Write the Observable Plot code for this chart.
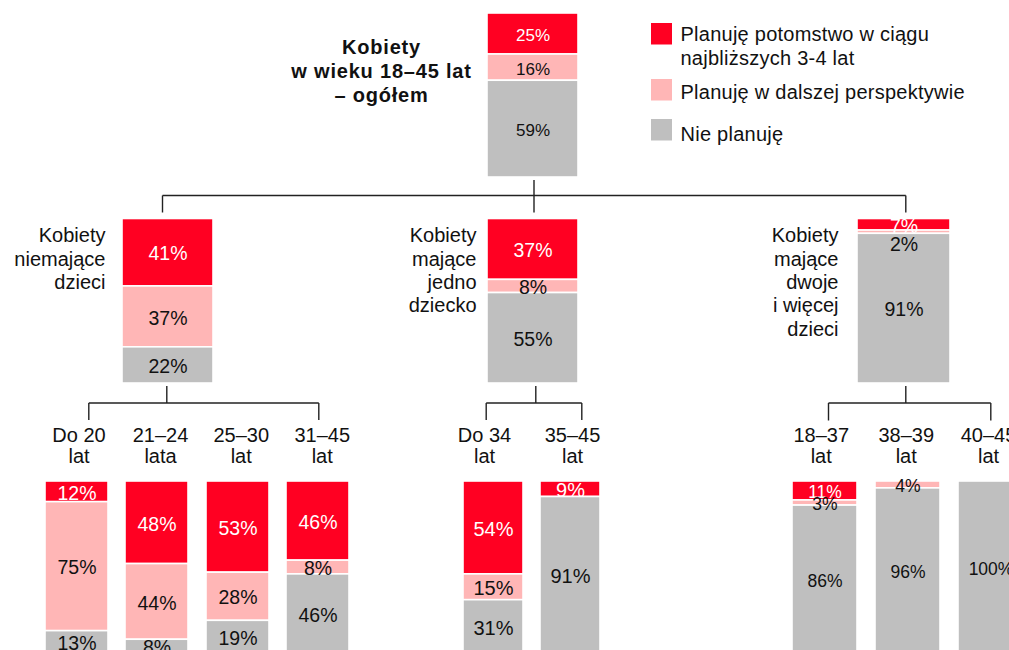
<!DOCTYPE html>
<html>
<head>
<meta charset="utf-8">
<script src="https://cdn.jsdelivr.net/npm/d3@7"></script>
<script src="https://cdn.jsdelivr.net/npm/@observablehq/plot@0.6"></script>
<style>
  html, body { margin: 0; padding: 0; overflow: hidden; background: #fff; }
</style>
</head>
<body>
<div id="chart"></div>
<script>
// ---------------- DATA ----------------
const nodeIds = ["total", "noKids", "oneKid", "twoPlus",
  "nk1", "nk2", "nk3", "nk4", "ok1", "ok2", "tp1", "tp2", "tp3"];
const nodeParents = [null, "total", "total", "total",
  "noKids", "noKids", "noKids", "noKids", "oneKid", "oneKid", "twoPlus", "twoPlus", "twoPlus"];
const nodeLabels = [
  "Kobiety\nw wieku 18–45 lat\n– ogółem",
  "Kobiety\nniemające\ndzieci",
  "Kobiety\nmające\njedno\ndziecko",
  "Kobiety\nmające\ndwoje\ni więcej\ndzieci",
  "Do 20\nlat", "21–24\nlata", "25–30\nlat", "31–45\nlat",
  "Do 34\nlat", "35–45\nlat",
  "18–37\nlat", "38–39\nlat", "40–45\nlat"
];
const seriesNames = [
  "Planuję potomstwo w ciągu najbliższych 3-4 lat",
  "Planuję w dalszej perspektywie",
  "Nie planuję"
];
const legendLabels = [
  "Planuję potomstwo w ciągu\nnajbliższych 3-4 lat",
  "Planuję w dalszej perspektywie",
  "Nie planuję"
];
const planSoon    = [25, 41, 37,  7, 12, 48, 53, 46, 54,  9, 11,  0,   0];
const planLater   = [16, 37,  8,  2, 75, 44, 28,  8, 15,  0,  3,  4,   0];
const notPlanning = [59, 22, 55, 91, 13,  8, 19, 46, 31, 91, 86, 96, 100];

// ---------------- STYLE / LAYOUT ----------------
const W = 1009, H = 650;
const seriesColors = ["#FF0022", "#FFB6B6", "#BFBFBF"];
const seriesTextColors = ["#ffffff", "#111111", "#111111"];
const FONT = "'Liberation Sans', Arial, Helvetica, sans-serif";

const levels = [
  {top: 13,    height: 164},
  {top: 218.5, height: 164.5},
  {top: 481,   height: 172}
];
const barLayout = {
  total:   {x1: 487, x2: 578, fs: 17},
  noKids:  {x1: 122, x2: 213, fs: 19.5, labelX: 105},
  oneKid:  {x1: 487, x2: 578, fs: 19.5, labelX: 476},
  twoPlus: {x1: 857, x2: 950, fs: 19.5, labelX: 838},
  nk1: {x1: 45,  x2: 108, fs: 19.5, labelX: 78.5},
  nk2: {x1: 125, x2: 188, fs: 19.5, labelX: 160},
  nk3: {x1: 206, x2: 269, fs: 19.5, labelX: 240.7},
  nk4: {x1: 286, x2: 349, fs: 19.5, labelX: 321.7},
  ok1: {x1: 463, x2: 523, fs: 20,   labelX: 484},
  ok2: {x1: 540, x2: 600, fs: 20,   labelX: 572},
  tp1: {x1: 792, x2: 857, fs: 17.5, labelX: 820.7},
  tp2: {x1: 875, x2: 940, fs: 17.5, labelX: 905.7},
  tp3: {x1: 958, x2: 1023, fs: 17.5, labelX: 988}
};
const labelLayout = [
  {x: 381, y: 36,    anchor: "middle", lineHeight: 1.2,  weight: "bold", spacing: 0.8},
  {y: 225,           anchor: "end",    lineHeight: 1.17, weight: "normal", spacing: 0},
  {y: 425.8,         anchor: "middle", lineHeight: 1.07, weight: "normal", spacing: 0}
];
const bracketLayout = {
  total:   {stemX: 533.5, y: 195,   drops: [162, 533.5, 905.3], dropEnd: 212},
  noKids:  {stemX: 166.3, y: 402.5, drops: [88.3, 318.3],       dropEnd: 419.5},
  oneKid:  {stemX: 535.3, y: 402.5, drops: [485.7, 581.3],      dropEnd: 419.5},
  twoPlus: {stemX: 905.3, y: 402.5, drops: [828, 990.3],        dropEnd: 420}
};
const legendLayout = {x1: 651, x2: 672, textX: 680,
  rowTop: [23, 79, 119], rowH: 21.5, textY: [24, 82, 124], lineHeight: 1.17, spacing: 0.25};

// ---------------- BUILD TABLES ----------------
const levelOf = id => {
  let lvl = 0, p = nodeParents[nodeIds.indexOf(id)];
  while (p) { lvl++; p = nodeParents[nodeIds.indexOf(p)]; }
  return lvl;
};
const valuesBySeries = [planSoon, planLater, notPlanning];

const segments = [];
nodeIds.forEach((id, i) => {
  const L = levels[levelOf(id)];
  const b = barLayout[id];
  let cum = 0;
  valuesBySeries.forEach((vals, s) => {
    const v = vals[i];
    if (v > 0) {
      const y1 = L.top + cum / 100 * L.height;
      const y2 = L.top + (cum + v) / 100 * L.height;
      const h = y2 - y1;
      segments.push({
        node: id, series: seriesNames[s], s, value: v,
        x1: b.x1, x2: b.x2, y1, y2,
        cx: (b.x1 + b.x2) / 2,
        cy: (y1 + y2) / 2 + (h < 4 ? 12.5 : 1.5),
        fs: b.fs, label: v + "%"
      });
    }
    cum += v;
  });
});

const nodeLabelRows = nodeIds.map((id, i) => ({
  id, level: levelOf(id), text: nodeLabels[i],
  x: labelLayout[levelOf(id)].x ?? barLayout[id].labelX,
  y: labelLayout[levelOf(id)].y
}));

const links = [];
Object.entries(bracketLayout).forEach(([pid, br]) => {
  const L = levels[levelOf(pid)];
  const bottom = L.top + L.height;
  links.push({x1: br.stemX, y1: bottom + 2.5, x2: br.stemX, y2: br.y});
  links.push({x1: d3.min(br.drops), y1: br.y, x2: d3.max(br.drops), y2: br.y});
  br.drops.forEach(x => links.push({x1: x, y1: br.y, x2: x, y2: br.dropEnd}));
});

const legendRows = seriesNames.map((name, i) => ({
  name, label: legendLabels[i],
  y1: legendLayout.rowTop[i], y2: legendLayout.rowTop[i] + legendLayout.rowH,
  ty: legendLayout.textY[i]
}));

// ---------------- PLOT ----------------
// letter-spacing applied through the mark's render hook
const withSpacing = (px) => (index, scales, values, dims, context, next) => {
  const g = next(index, scales, values, dims, context);
  if (px) d3.select(g).selectAll("text").attr("letter-spacing", px + "px");
  return g;
};

const textMark = (lvl) => Plot.text(nodeLabelRows.filter(d => d.level === lvl), {
  x: "x", y: "y", text: "text",
  textAnchor: labelLayout[lvl].anchor,
  lineAnchor: "top",
  lineHeight: labelLayout[lvl].lineHeight,
  fontSize: 20,
  fontWeight: labelLayout[lvl].weight,
  fill: "#111111",
  render: withSpacing(labelLayout[lvl].spacing)
});

const chart = Plot.plot({
  width: W, height: H,
  margin: 0,
  x: {type: "linear", domain: [0, W], range: [0, W], axis: null},
  y: {type: "linear", domain: [0, H], range: [0, H], axis: null},
  color: {domain: seriesNames, range: seriesColors},
  style: {fontFamily: FONT, background: "#ffffff", overflow: "hidden"},
  marks: [
    Plot.link(links, {x1: "x1", y1: "y1", x2: "x2", y2: "y2",
      stroke: "#222222", strokeWidth: 1.4}),
    Plot.rect(segments, {x1: "x1", x2: "x2", y1: "y1", y2: "y2",
      fill: "series", stroke: "#ffffff", strokeWidth: 1.6}),
    ...[0, 1, 2].map(s => Plot.text(segments.filter(d => d.s === s), {
      x: "cx", y: "cy", text: "label", fontSize: "fs",
      fill: seriesTextColors[s], lineAnchor: "middle"
    })),
    textMark(0), textMark(1), textMark(2),
    Plot.rect(legendRows, {x1: legendLayout.x1, x2: legendLayout.x2,
      y1: "y1", y2: "y2", fill: "name"}),
    Plot.text(legendRows, {x: legendLayout.textX, y: "ty", text: "label",
      textAnchor: "start", lineAnchor: "top", lineHeight: legendLayout.lineHeight,
      fontSize: 20, fill: "#111111", render: withSpacing(legendLayout.spacing)})
  ]
});
// fallback in case the render hook is unavailable
d3.select(chart).selectAll("text").each(function () {
  const t = this.textContent;
  if (t.startsWith("Kobietyw wieku")) d3.select(this).attr("letter-spacing", labelLayout[0].spacing + "px");
});
document.getElementById("chart").appendChild(chart);
</script>
</body>
</html>
